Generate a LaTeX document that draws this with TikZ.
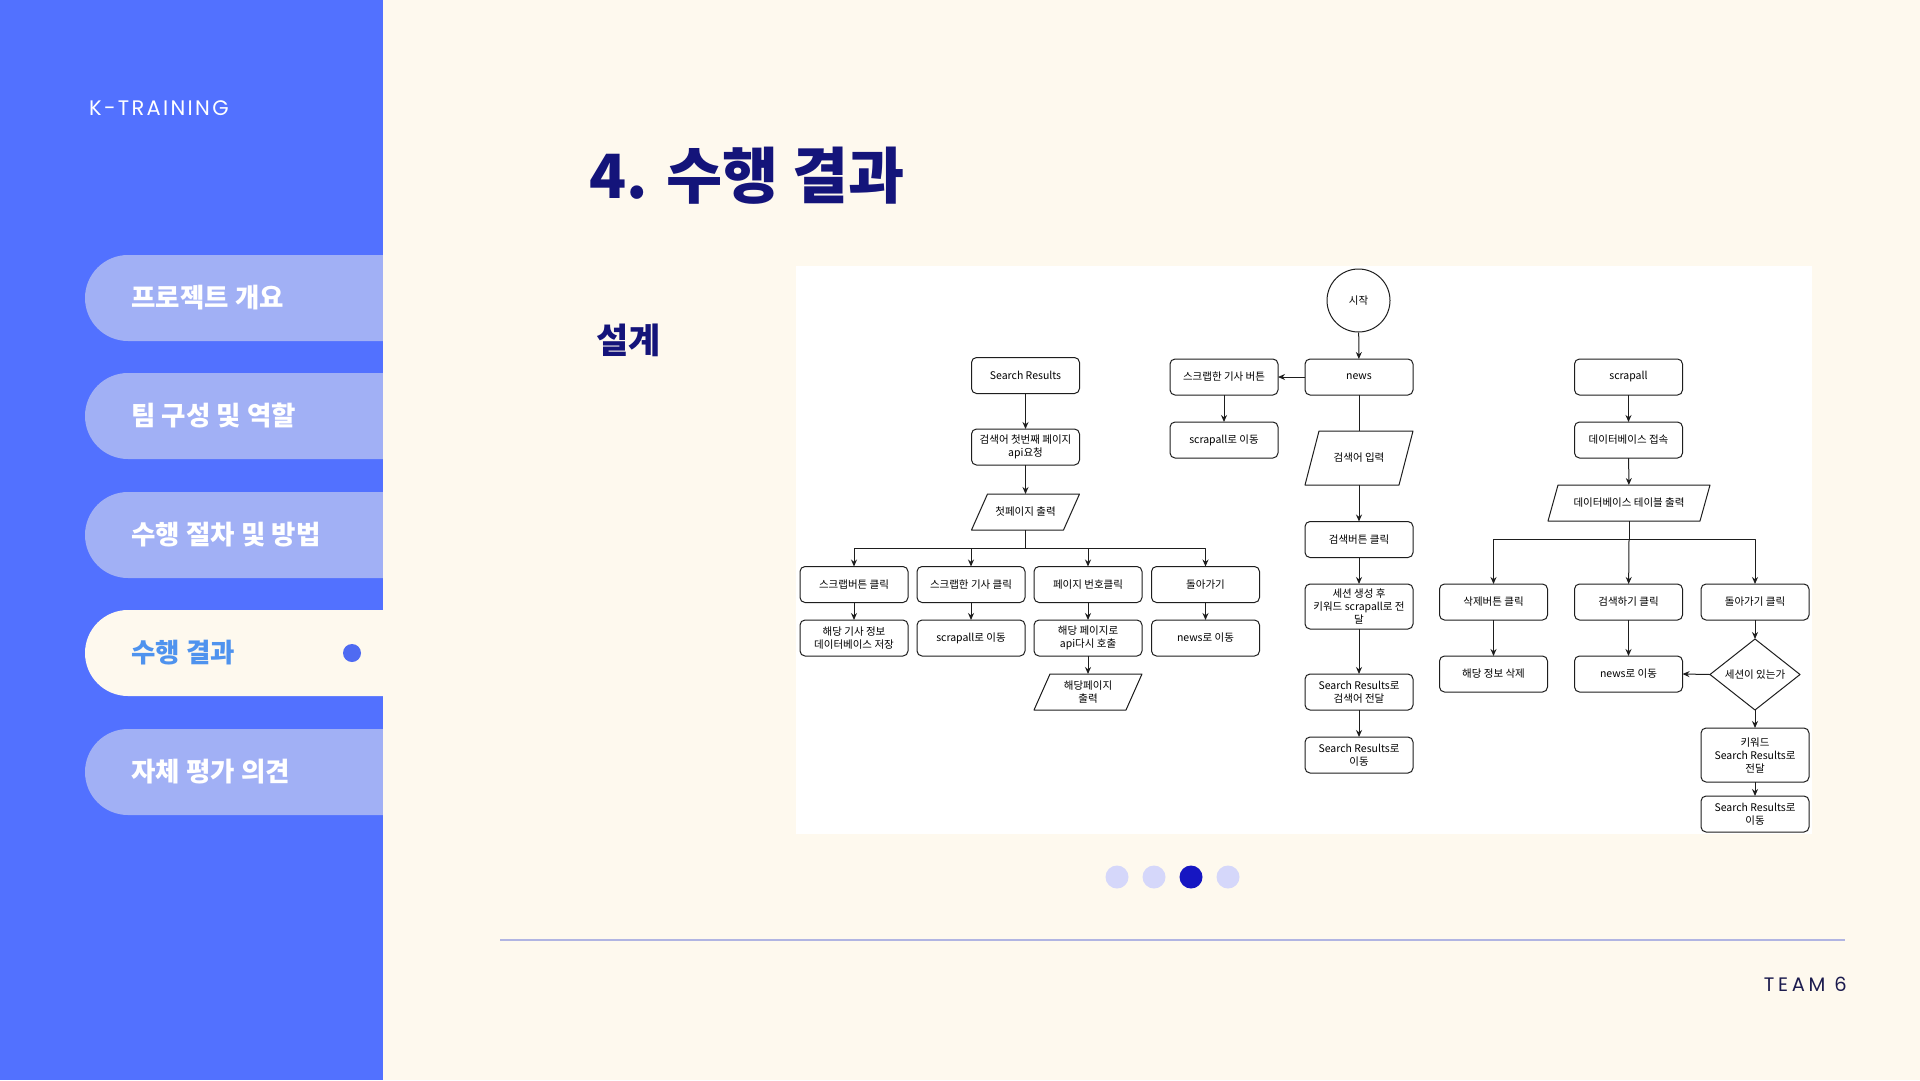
\documentclass[tikz,border=0pt]{standalone}
\usepackage{fontspec}
\usetikzlibrary{arrows.meta,calc}
\newfontfamily\krfont{Noto Sans CJK KR}
\newfontfamily\brandfont{Poppins}[LetterSpace=11]
\newfontfamily\teamfont{Poppins}[LetterSpace=19]

\definecolor{panelblue}{HTML}{5271FF}
\definecolor{pillfill}{HTML}{A1B0F5}
\definecolor{cream}{HTML}{FEF9EE}
\definecolor{navy}{HTML}{14147A}
\definecolor{activeblue}{HTML}{4F93EE}
\definecolor{markblue}{HTML}{4F6BF2}
\definecolor{pagedot}{HTML}{D5D7FA}
\definecolor{pagedotact}{HTML}{1616C2}
\definecolor{rulecol}{HTML}{B1B5E2}
\definecolor{teamnavy}{HTML}{1C1C4E}
\definecolor{flowline}{HTML}{1E1E1E}

% parallelogram drawn on the frame of a plain node: name, skew
\newcommand\ioshape[2]{%
  \draw[flow] ($(#1.north west)+(#2,0)$) -- (#1.north east)
    -- ($(#1.south east)-(#2,0)$) -- (#1.south west) -- cycle;}
% decision diamond on the frame of a plain node
\newcommand\decshape[1]{%
  \draw[flow] (#1.north) -- (#1.east) -- (#1.south) -- (#1.west) -- cycle;}

\begin{document}
\begin{tikzpicture}[x=1pt,y=-1pt,
  flow/.style={draw=flowline, line width=1pt, line join=round},
  flowfont/.style={font={\krfont\fontsize{10.5pt}{13pt}\selectfont}},
  box/.style={flow, flowfont, rounded corners=5pt, minimum width=108pt,
    minimum height=36pt, inner sep=0pt, outer sep=0pt, align=center},
  iobox/.style={flowfont, minimum width=108pt, minimum height=36pt,
    inner sep=0pt, outer sep=0pt, align=center},
  decbox/.style={flowfont, minimum width=90pt, minimum height=71pt,
    inner sep=0pt, outer sep=0pt, align=center},
  startcirc/.style={flow, flowfont, circle, minimum size=63pt, inner sep=0pt},
  arr/.style={flow, -{Stealth[length=7pt,width=6pt]}},
  pilllabel/.style={anchor=west, text=white,
    font={\krfont\bfseries\fontsize{26.5pt}{30pt}\selectfont}},
  pagedotstyle/.style={circle, fill=pagedot, minimum size=23pt, inner sep=0pt}]

\useasboundingbox (0,0) rectangle (1920,1080);

% side panel and menu pills
\fill[panelblue] (0,0) rectangle (383,1080);
\foreach \t in {255,373,492,729}
  \fill[pillfill, rounded corners=43pt] (85,\t) rectangle (470,\t+86);
\fill[cream, rounded corners=43pt] (85,610) rectangle (470,696);
% main area
\fill[cream] (383,0) rectangle (1920,1080);

\node[anchor=base west, text=white, inner sep=0pt, font={\brandfont\fontsize{21pt}{25pt}\selectfont}]
  (brand) at (89,115) {K-TRAINING};

\node[pilllabel] (menu1) at (128,298) {프로젝트 개요};
\node[pilllabel] (menu2) at (128,416) {팀 구성 및 역할};
\node[pilllabel] (menu3) at (128,535) {수행 절차 및 방법};
\node[pilllabel, text=activeblue] (menu4) at (128,653) {수행 결과};
\node[pilllabel] (menu5) at (128,772) {자체 평가 의견};
\fill[markblue] (352,653) circle (9pt);

% headings
\node[anchor=base west, text=navy, inner sep=0pt, font={\krfont\bfseries\fontsize{61pt}{66pt}\selectfont}]
  (title) at (589,198) {4. 수행 결과};
\node[anchor=base west, text=navy, inner sep=0pt, font={\krfont\bfseries\fontsize{35pt}{40pt}\selectfont}]
  (sub) at (596,353) {설계};

% flowchart canvas
\fill[white] (796,266) rectangle (1812,834);

% centre column: news
\node[startcirc] (start) at (1358.5,300.5) {시작};
\node[box] (news) at (1359,377) {news};
\node[box] (scrapbtn) at (1224,377) {스크랩한 기사 버튼};
\node[box] (scrapgo) at (1224,440) {scrapall로 이동};
\node[iobox, minimum height=54pt] (kwin) at (1359,458) {검색어 입력};
\ioshape{kwin}{14}
\node[box] (searchbtn) at (1359,539.5) {검색버튼 클릭};
\node[box, minimum height=45pt] (session) at (1359,606.5) {세션 생성 후\\키워드 scrapall로 전\\달};
\node[box] (srpass) at (1359,692) {Search Results로\\검색어 전달};
\node[box] (srgo) at (1359,755) {Search Results로\\이동};

% left column: search results
\node[box] (sr) at (1025.5,375.5) {Search Results};
\node[box] (api) at (1025.5,447) {검색어 첫번째 페이지\\api요청};
\node[iobox] (firstpage) at (1025.5,512) {첫페이지 출력};
\ioshape{firstpage}{16}
\coordinate (forkA) at (1025.5,548);
\node[box] (clip) at (854,584.5) {스크랩버튼 클릭};
\node[box] (scrapclick) at (971,584.5) {스크랩한 기사 클릭};
\node[box] (pageclick) at (1088,584.5) {페이지 번호클릭};
\node[box] (goback) at (1205.5,584.5) {돌아가기};
\node[box] (save) at (854,638) {해당 기사 정보\\데이터베이스 저장};
\node[box] (toscrap) at (971,638) {scrapall로 이동};
\node[box] (recall) at (1088,638) {해당 페이지로\\api다시 호출};
\node[box] (tonews) at (1205.5,638) {news로 이동};
\node[iobox] (pageout) at (1088,692) {해당페이지\\출력};
\ioshape{pageout}{16}

% right column: scrapall
\node[box] (scrapall) at (1628.5,377) {scrapall};
\node[box] (dbconn) at (1628.5,440) {데이터베이스 접속};
\node[iobox, minimum width=162pt] (dbtable) at (1629,503) {데이터베이스 테이블 출력};
\ioshape{dbtable}{10}
\coordinate (forkB) at (1629,539);
\node[box] (delbtn) at (1493.5,602) {삭제버튼 클릭};
\node[box] (searchgo) at (1628.5,602) {검색하기 클릭};
\node[box] (backbtn) at (1755,602) {돌아가기 클릭};
\node[box] (delinfo) at (1493.5,674) {해당 정보 삭제};
\node[box] (newsgo) at (1628.5,674) {news로 이동};
\node[decbox] (hassession) at (1755,674.5) {세션이 있는가};
\decshape{hassession}
\node[box, minimum height=54pt] (kwpass) at (1755,755) {키워드\\Search Results로\\전달};
\node[box] (srgo2) at (1755,814) {Search Results로\\이동};

% connectors
\draw[arr] (start) -- (news);
\draw[arr] (news) -- (scrapbtn);
\draw[arr] (scrapbtn) -- (scrapgo);
\draw[flow] (news) -- (kwin);
\draw[arr] (kwin) -- (searchbtn);
\draw[arr] (searchbtn) -- (session);
\draw[arr] (session) -- (srpass);
\draw[arr] (srpass) -- (srgo);

\draw[arr] (sr) -- (api);
\draw[arr] (api) -- (firstpage);
\draw[flow] (firstpage) -- (forkA);
\draw[arr] (forkA) -| (clip);
\draw[arr] (forkA) -| (scrapclick);
\draw[arr] (forkA) -| (pageclick);
\draw[arr] (forkA) -| (goback);
\draw[arr] (clip) -- (save);
\draw[arr] (scrapclick) -- (toscrap);
\draw[arr] (pageclick) -- (recall);
\draw[arr] (goback) -- (tonews);
\draw[arr] (recall) -- (pageout);

\draw[arr] (scrapall) -- (dbconn);
\draw[arr] (dbconn) -- (dbtable);
\draw[flow] (dbtable) -- (forkB);
\draw[arr] (forkB) -| (delbtn);
\draw[arr] (forkB) -- (searchgo);
\draw[arr] (forkB) -| (backbtn);
\draw[arr] (delbtn) -- (delinfo);
\draw[arr] (searchgo) -- (newsgo);
\draw[arr] (backbtn) -- (hassession.north);
\draw[arr] (hassession.west) -- (newsgo.east);
\draw[arr] (hassession.south) -- (kwpass);
\draw[arr] (kwpass) -- (srgo2);

% pager
\node[pagedotstyle] (p1) at (1117,877) {};
\node[pagedotstyle] (p2) at (1154,877) {};
\node[pagedotstyle, fill=pagedotact] (p3) at (1191,877) {};
\node[pagedotstyle] (p4) at (1228,877) {};

% footer
\draw[rulecol, line width=1.6pt] (500,940) -- (1845,940);
\node[anchor=base east, text=teamnavy, inner sep=0pt, font={\teamfont\fontsize{19.5pt}{23pt}\selectfont}]
  (team) at (1847,991) {TEAM 6};
\end{tikzpicture}
\end{document}
